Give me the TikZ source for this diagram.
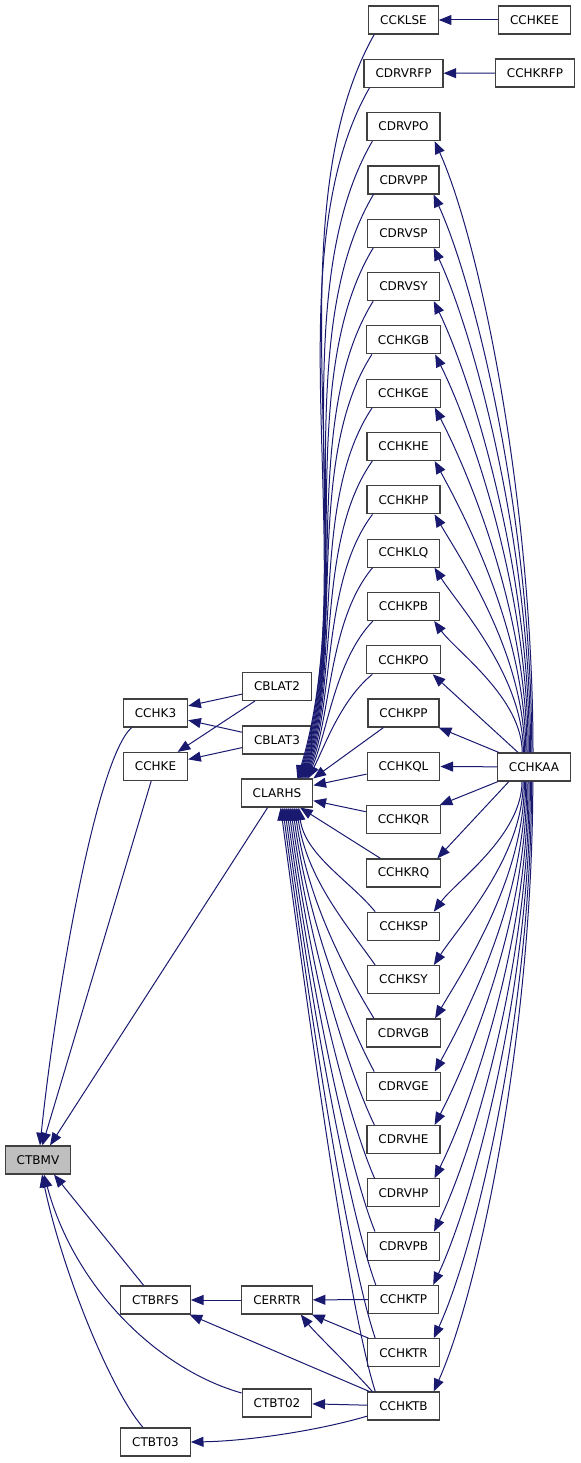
\documentclass[tikz,border=0pt]{standalone}
\usepackage{fontspec}
\setmainfont{DejaVu Sans}
\usetikzlibrary{arrows.meta}
\definecolor{edgec}{RGB}{25,25,112}
\definecolor{boxc}{RGB}{64,64,64}
\definecolor{grayfill}{RGB}{191,191,191}
\begin{document}
\begin{tikzpicture}[x=0.75pt,y=-0.75pt,
  box/.style={draw=boxc,line width=0.9pt,fill=white,minimum height=21pt,inner xsep=8.6pt,inner ysep=0pt,font=\fontsize{9}{11}\selectfont,anchor=center},
  edge/.style={draw=edgec,line width=0.75pt,-{Triangle[length=9.5pt,width=7.5pt]}}]
\useasboundingbox (0,0) rectangle (581,1463);

% left columns
\node[box,fill=grayfill] (CTBMV) at (38,1160) {CTBMV};
\node[box] (CCHK3) at (155.5,713) {CCHK3};
\node[box] (CCHKE) at (155.5,766.5) {CCHKE};
\node[box] (CTBRFS) at (155.5,1300) {CTBRFS};
\node[box] (CTBT03) at (155.5,1442) {CTBT03};
\node[box] (CBLAT2) at (277,686.5) {CBLAT2};
\node[box] (CBLAT3) at (277,740) {CBLAT3};
\node[box] (CLARHS) at (277,793) {CLARHS};
\node[box] (CERRTR) at (277,1300) {CERRTR};
\node[box] (CTBT02) at (277,1403) {CTBT02};

% middle column
\foreach \n/\r in {CCKLSE/0,CDRVRFP/1,CDRVPO/2,CDRVPP/3,CDRVSP/4,CDRVSY/5,CCHKGB/6,CCHKGE/7,CCHKHE/8,CCHKHP/9,CCHKLQ/10,CCHKPB/11,CCHKPO/12,CCHKPP/13,CCHKQL/14,CCHKQR/15,CCHKRQ/16,CCHKSP/17,CCHKSY/18,CDRVGB/19,CDRVGE/20,CDRVHE/21,CDRVHP/22,CDRVPB/23,CCHKTP/24,CCHKTR/25,CCHKTB/26}
  \node[box] (\n) at (403.5,{20+53.31*\r}) {\n};

% right column
\node[box] (CCHKEE) at (534.5,20) {CCHKEE};
\node[box] (CCHKRFP) at (535,73) {CCHKRFP};
\node[box] (CCHKAA) at (534,767) {CCHKAA};

% edges into CLARHS from above
\foreach \n/\r in {CCKLSE/0,CDRVRFP/1,CDRVPO/2,CDRVPP/3,CDRVSP/4,CDRVSY/5,CCHKGB/6,CCHKGE/7,CCHKHE/8,CCHKHP/9,CCHKLQ/10,CCHKPB/11,CCHKPO/12} {
  \pgfmathsetmacro\qD{745-53.31*\r}
  \pgfmathsetmacro\qf{\qD/745}
  \pgfmathsetmacro\qax{20+85*\qf}
  \pgfmathsetmacro\qay{0.25*\qD}
  \pgfmathsetmacro\qbx{8+60*\qf}
  \pgfmathsetmacro\qby{0.3*\qD}
  \pgfmathsetmacro\qex{16-0.9*\r}
  \draw[edge] ([shift={(6,0)}]\n.south west) .. controls +(-\qax,\qay) and +(\qbx,-\qby) .. ([shift={(-\qex,0)}]CLARHS.north east);
}
% edges into CLARHS from below
\foreach \n/\r in {CCHKSP/17,CCHKSY/18,CDRVGB/19,CDRVGE/20,CDRVHE/21,CDRVHP/22,CDRVPB/23,CCHKTP/24,CCHKTR/25,CCHKTB/26} {
  \pgfmathsetmacro\qD{53.31*\r-801}
  \pgfmathsetmacro\qay{20+0.1*\qD}
  \pgfmathsetmacro\qbx{0.06*\qD}
  \pgfmathsetmacro\qby{0.45*\qD}
  \pgfmathsetmacro\qex{58-2*(\r-17)}
  \draw[edge] ([shift={(8,0)}]\n.north west) .. controls +(-25,-\qay) and +(\qbx,\qby) .. ([shift={(\qex,0)}]CLARHS.south west);
}
\draw[edge] (CCHKPP) -- (CLARHS.north east);
\draw[edge] (CCHKQL) -- (CLARHS);
\draw[edge] (CCHKQR) -- (CLARHS);
\draw[edge] (CCHKRQ) -- (CLARHS);

% edges from CCHKAA upwards
\foreach \n/\r in {CDRVPO/2,CDRVPP/3,CDRVSP/4,CDRVSY/5,CCHKGB/6,CCHKGE/7,CCHKHE/8,CCHKHP/9,CCHKLQ/10,CCHKPB/11} {
  \pgfmathsetmacro\qD{719-53.31*\r}
  \pgfmathsetmacro\qa{0.41*\qD}
  \pgfmathsetmacro\qb{0.05*\qD+15}
  \pgfmathsetmacro\qc{0.15*\qD+10}
  \pgfmathsetmacro\qxt{-1-1.2*(\r-2)}
  \draw[edge] ([shift={(\qxt,0)}]CCHKAA.north) .. controls +(0,-\qa) and +(\qb,\qc) .. ([shift={(-6,0)}]\n.south east);
}
% edges from CCHKAA downwards
\foreach \n/\r in {CCHKSP/17,CCHKSY/18,CDRVGB/19,CDRVGE/20,CDRVHE/21,CDRVHP/22,CDRVPB/23,CCHKTP/24,CCHKTR/25,CCHKTB/26} {
  \pgfmathsetmacro\qD{53.31*\r-775}
  \pgfmathsetmacro\qa{0.41*\qD}
  \pgfmathsetmacro\qb{0.05*\qD+15}
  \pgfmathsetmacro\qc{0.15*\qD+10}
  \pgfmathsetmacro\qxt{-12+1.2*(\r-17)}
  \draw[edge] ([shift={(\qxt,0)}]CCHKAA.south) .. controls +(0,\qa) and +(\qb,-\qc) .. ([shift={(-6,0)}]\n.north east);
}
\draw[edge] ([shift={(-16,0)}]CCHKAA.north) -- ([shift={(-8,0)}]CCHKPO.south east);
\draw[edge] (CCHKAA) -- (CCHKPP);
\draw[edge] (CCHKAA) -- (CCHKQL);
\draw[edge] (CCHKAA) -- (CCHKQR);
\draw[edge] ([shift={(12,0)}]CCHKAA.south west) -- ([shift={(-4,0)}]CCHKRQ.north east);

% top pairs
\draw[edge] (CCHKEE) -- (CCKLSE);
\draw[edge] (CCHKRFP) -- (CDRVRFP);

% left side
\draw[edge] (CBLAT2) -- (CCHK3);
\draw[edge] (CBLAT3) -- (CCHK3);
\draw[edge] (CBLAT2) -- (CCHKE);
\draw[edge] (CBLAT3) -- (CCHKE);
\draw[edge] ([shift={(-24,0)}]CCHK3.south) .. controls +(-36,33) and +(15,-145) .. ([shift={(2,0)}]CTBMV.north);
\draw[edge] (CCHKE) -- (CTBMV);
\draw[edge] (CLARHS) -- ([shift={(12,0)}]CTBMV.north);
\draw[edge] (CTBRFS) -- ([shift={(16,0)}]CTBMV.south);
\draw[edge] ([shift={(0,-10)}]CTBT02.west) .. controls +(-82,-23) and +(31,115) .. ([shift={(6,0)}]CTBMV.south);
\draw[edge] ([shift={(-12.5,0)}]CTBT03.north) .. controls +(-33,-38) and +(20,95) .. ([shift={(4,0)}]CTBMV.south);

% bottom
\draw[edge] (CERRTR) -- (CTBRFS);
\draw[edge] (CCHKTB) -- (CTBRFS);
\draw[edge] (CCHKTP) -- (CERRTR);
\draw[edge] (CCHKTR) -- (CERRTR);
\draw[edge] ([shift={(5,0)}]CCHKTB.north west) .. controls +(-27,-30) and +(15,19) .. ([shift={(-12,0)}]CERRTR.south east);
\draw[edge] (CCHKTB) -- (CTBT02);
\draw[edge] ([shift={(0,10)}]CCHKTB.west) .. controls +(-47,14) and +(59,-1) .. (CTBT03.east);
\end{tikzpicture}
\end{document}
